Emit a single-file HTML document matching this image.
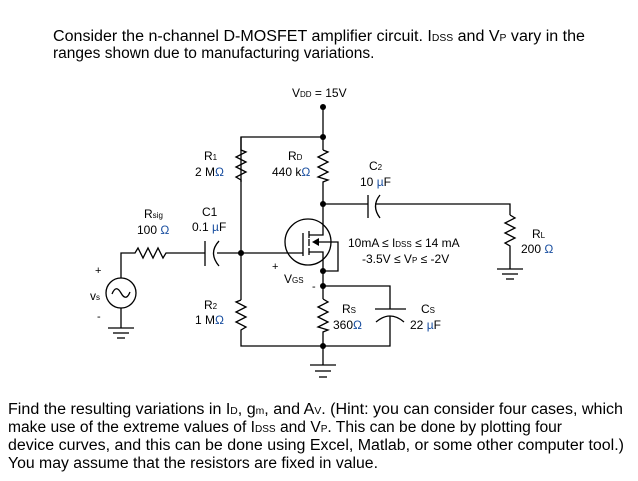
<!DOCTYPE html>
<html><head><meta charset="utf-8"><style>
html,body{margin:0;padding:0;background:#fff;}
svg{display:block;}
text{font-family:"Liberation Sans",Arial,sans-serif;fill:#000;}
.s{font-size:8px;}
.o{fill:#1a4fa0;}
</style></head><body>
<svg width="638" height="481" viewBox="0 0 638 481">
<g font-size="15.5">
<text x="53" y="41" textLength="532" lengthAdjust="spacingAndGlyphs">Consider the n-channel D-MOSFET amplifier circuit. I<tspan font-size="10">DSS</tspan> and V<tspan font-size="10">P</tspan> vary in the</text>
<text x="53" y="58">ranges shown due to manufacturing variations.</text>
<text x="8" y="414" textLength="615" lengthAdjust="spacingAndGlyphs">Find the resulting variations in I<tspan font-size="10">D</tspan>, g<tspan font-size="10">m</tspan>, and A<tspan font-size="10">V</tspan>.  (Hint: you can consider four cases, which</text>
<text x="8" y="432" textLength="554" lengthAdjust="spacingAndGlyphs">make use of the extreme values of I<tspan font-size="10">DSS</tspan> and V<tspan font-size="10">P</tspan>.  This can be done by plotting four</text>
<text x="8" y="450" textLength="616" lengthAdjust="spacingAndGlyphs">device curves, and this can be done using Excel, Matlab, or some other computer tool.)</text>
<text x="8" y="468" textLength="370" lengthAdjust="spacingAndGlyphs">You may assume that the resistors are fixed in value.</text>
</g>
<g stroke="#000" stroke-width="1.3" fill="none">
<!-- VDD -->
<line x1="323" y1="107" x2="323" y2="150"/>
<polyline points="241,182 241,137 323,137"/>
<!-- R1 -->
<polyline points="241,182 241,180 236,177 246,172 236,167 246,162 236,157 246,152 241,150 241,137"/>
<!-- RD -->
<polyline points="323,150 328,152 318,157 328,162 318,167 328,172 318,177 328,180 323,182 323,204"/>
<!-- R1 to gate node to R2 -->
<line x1="241" y1="182" x2="241" y2="300"/>
<polyline points="241,300 236,302 246,307 236,312 246,317 236,322 246,327 241,330 241,346 323,346"/>
<!-- gate line -->
<line x1="217" y1="253" x2="303" y2="253"/>
<!-- C1 -->
<line x1="168" y1="253" x2="205" y2="253"/>
<line x1="205" y1="241" x2="205" y2="266"/>
<path d="M219,241 Q208,253 219,266"/>
<!-- Rsig -->
<polyline points="121,278 121,253 135,253 138,248 143,258 148,248 153,258 158,248 163,258 166,253 168,253"/>
<!-- source -->
<circle cx="121" cy="293" r="15"/>
<path d="M112,294 Q116,284 121,293 Q126,302 130,292"/>
<line x1="121" y1="308" x2="121" y2="328"/>
<line x1="108" y1="328" x2="134" y2="328"/>
<line x1="113" y1="333" x2="129" y2="333"/>
<line x1="117" y1="338" x2="125" y2="338"/>
<!-- MOSFET -->
<circle cx="308" cy="242" r="23"/>
<line x1="303" y1="233" x2="303" y2="256"/>
<line x1="309" y1="231" x2="309" y2="238"/>
<line x1="309" y1="239" x2="309" y2="246"/>
<line x1="309" y1="248" x2="309" y2="255"/>
<polyline points="309,235 323,235 323,204"/>
<polyline points="309,252 323,252 323,271"/>
<polyline points="316,242 338,242 338,271 323,271"/>
<line x1="323" y1="271" x2="323" y2="299"/>
<!-- Rs -->
<polyline points="323,299 328,302 318,307 328,312 318,317 328,322 318,327 328,330 323,332 323,365"/>
<!-- Cs -->
<polyline points="323,286 390,286 390,309"/>
<line x1="375" y1="309" x2="406" y2="309"/>
<path d="M376,322 Q390,310 404,322"/>
<polyline points="390,316 390,346 323,346"/>
<!-- ground -->
<line x1="310" y1="365" x2="336" y2="365"/>
<line x1="315" y1="371" x2="331" y2="371"/>
<line x1="319" y1="377" x2="327" y2="377"/>
<!-- C2 -->
<line x1="323" y1="204" x2="368" y2="204"/>
<line x1="368" y1="195" x2="368" y2="218"/>
<path d="M380,195 Q371,206 380,218"/>
<polyline points="375,204 510,204 510,215"/>
<!-- RL -->
<polyline points="510,215 515,218 505,223 515,228 505,233 515,238 505,243 510,246 510,269"/>
<line x1="497" y1="269" x2="523" y2="269"/>
<line x1="502" y1="274" x2="518" y2="274"/>
<line x1="506" y1="279" x2="514" y2="279"/>
</g>
<polygon points="312,242 319,238 319,246" fill="#000"/>
<g fill="#000">
<circle cx="323" cy="107" r="3"/><circle cx="323" cy="137" r="3"/><circle cx="323" cy="204" r="3"/>
<circle cx="241" cy="253" r="3"/><circle cx="323" cy="271" r="3"/><circle cx="323" cy="286" r="3"/>
<circle cx="323" cy="346" r="3"/>
</g>
<g font-size="12">
<text x="292" y="97">V<tspan class="s">DD</tspan> = 15V</text>
<text x="204" y="160">R<tspan class="s">1</tspan></text>
<text x="195" y="176">2 M<tspan class="o">Ω</tspan></text>
<text x="288" y="160">R<tspan class="s">D</tspan></text>
<text x="272" y="176">440 k<tspan class="o">Ω</tspan></text>
<text x="369" y="170">C<tspan class="s">2</tspan></text>
<text x="360" y="186">10 <tspan class="o">µ</tspan>F</text>
<text x="144" y="218">R<tspan class="s">sig</tspan></text>
<text x="137" y="234">100 <tspan class="o">Ω</tspan></text>
<text x="202" y="216">C1</text>
<text x="192" y="231">0.1 <tspan class="o">µ</tspan>F</text>
<text x="348" y="247">10mA ≤ I<tspan class="s">DSS</tspan> ≤ 14 mA</text>
<text x="362" y="263">-3.5V ≤ V<tspan class="s">P</tspan> ≤ -2V</text>
<text x="532" y="238">R<tspan class="s">L</tspan></text>
<text x="521" y="253">200 <tspan class="o">Ω</tspan></text>
<text x="90" y="300">v<tspan class="s">s</tspan></text>
<text x="95" y="274" font-size="11">+</text>
<text x="97" y="320" font-size="11">-</text>
<text x="204" y="309">R<tspan class="s">2</tspan></text>
<text x="195" y="324">1 M<tspan class="o">Ω</tspan></text>
<text x="272" y="270" font-size="11">+</text>
<text x="284" y="283">V<tspan class="s">GS</tspan></text>
<text x="312" y="290" font-size="11">-</text>
<text x="342" y="313">R<tspan class="s">S</tspan></text>
<text x="333" y="329">360<tspan class="o">Ω</tspan></text>
<text x="421" y="313">C<tspan class="s">S</tspan></text>
<text x="410" y="329">22 <tspan class="o">µ</tspan>F</text>
</g>
</svg>
</body></html>
